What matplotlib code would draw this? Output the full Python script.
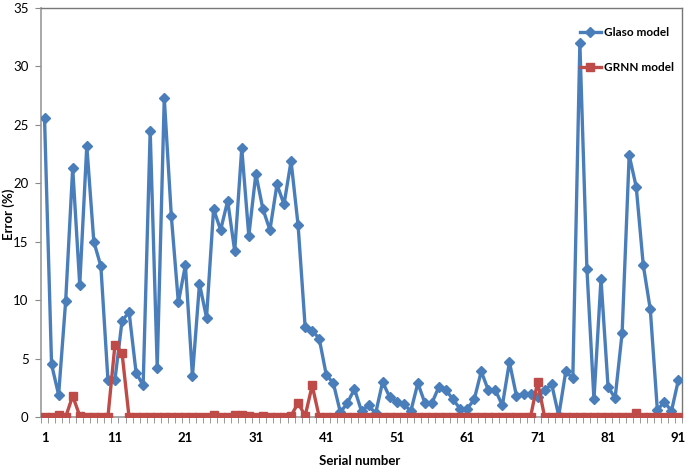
import matplotlib
matplotlib.use("Agg")
import matplotlib.pyplot as plt
import numpy as np

serial = list(range(1, 92))
glaso = [25.6, 4.5, 1.9, 9.9, 21.3, 11.3, 23.2, 15.0, 12.9, 3.2,
         3.2, 8.2, 9.0, 3.8, 2.7, 24.5, 4.2, 27.3, 17.2, 9.8,
         13.0, 3.5, 11.4, 8.5, 17.8, 16.0, 18.5, 14.2, 23.0, 15.5,
         20.8, 17.8, 16.0, 19.9, 18.2, 21.9, 16.4, 7.7, 7.4, 6.7,
         3.6, 2.9, 0.4, 1.2, 2.4, 0.5, 1.0, 0.3, 3.0, 1.7,
         1.3, 1.1, 0.5, 2.9, 1.2, 1.2, 2.6, 2.3, 1.5, 0.7,
         0.7, 1.5, 3.9, 2.3, 2.3, 1.0, 4.7, 1.8, 2.0, 2.0,
         1.7, 2.3, 2.8, 0.1, 3.9, 3.3, 32.0, 12.7, 1.5, 11.8,
         2.6, 1.6, 7.2, 22.4, 19.7, 13.0, 9.2, 0.6, 1.3, 0.5,
         3.2]
grnn = [0.0, 0.0, 0.2, 0.0, 1.8, 0.1, 0.0, 0.0, 0.0, 0.0,
        6.2, 5.5, 0.0, 0.0, 0.0, 0.0, 0.0, 0.0, 0.0, 0.0,
        0.0, 0.0, 0.0, 0.0, 0.2, 0.0, 0.0, 0.2, 0.2, 0.1,
        0.0, 0.1, 0.0, 0.0, 0.0, 0.1, 1.2, 0.1, 2.7, 0.0,
        0.0, 0.0, 0.0, 0.0, 0.0, 0.0, 0.0, 0.0, 0.0, 0.0,
        0.0, 0.0, 0.0, 0.0, 0.0, 0.0, 0.0, 0.0, 0.0, 0.0,
        0.0, 0.0, 0.0, 0.0, 0.0, 0.0, 0.0, 0.0, 0.0, 0.0,
        3.0, 0.0, 0.0, 0.0, 0.0, 0.0, 0.0, 0.0, 0.0, 0.0,
        0.0, 0.0, 0.0, 0.0, 0.3, 0.0, 0.0, 0.0, 0.0, 0.0,
        0.0]
xtick_labels = [1, 11, 21, 31, 41, 51, 61, 71, 81, 91]
yticks = [0, 5, 10, 15, 20, 25, 30, 35]

plt.rcParams['font.family'] = ['Lato', 'DejaVu Sans']

fig = plt.figure(figsize=(6.85, 4.70), dpi=100)
ax = fig.add_axes([41/685, 1 - 417/470, (682-41)/685, (417-8)/470])

blue = '#4A7EBB'
red = '#BE4B48'
ax.plot(serial, glaso, color=blue, lw=2.4, marker='D', ms=5, label='Glaso model', zorder=3)
ax.plot(serial, grnn, color=red, lw=2.4, marker='s', ms=5.5, label='GRNN model', zorder=4)

ax.set_xlim(0.5, 91.5)
ax.set_ylim(0, 35)
ax.set_yticks(yticks)
ax.set_yticklabels([str(v) for v in yticks], fontsize=9.5)
ax.set_xticks(xtick_labels)
ax.set_xticklabels([str(v) for v in xtick_labels], fontsize=9.5, fontweight='bold')
ax.set_xticks(np.arange(0.5, 92, 1), minor=True)
ax.tick_params(axis='x', which='major', length=0, pad=11)
ax.tick_params(axis='x', which='minor', length=4, color='#888888', direction='out')
ax.tick_params(axis='y', length=4, color='#888888', direction='out', pad=5)

for s in ['left', 'bottom']:
    ax.spines[s].set_color('#999999')
    ax.spines[s].set_linewidth(1.2)
for s in ['top', 'right']:
    ax.spines[s].set_color('#777777')
    ax.spines[s].set_linewidth(1.0)

ax.set_xlabel('Serial number', fontsize=9.5, fontweight='bold')
ax.xaxis.set_label_coords((360-41)/641, -(455-417)/409)
ax.set_ylabel('Error (%)', fontsize=9.5, fontweight='bold')
ax.yaxis.set_label_coords(-(41-15)/641, (417-214)/409)

leg = ax.legend(loc='upper right', frameon=False, handlelength=1.8,
                labelspacing=2.0, handletextpad=0.25, borderaxespad=0.0,
                bbox_to_anchor=(0.995, 0.965),
                prop={'family': ['Lato', 'DejaVu Sans'], 'weight': 'bold', 'size': 8.5})

fig.savefig('out.png', dpi=100)
